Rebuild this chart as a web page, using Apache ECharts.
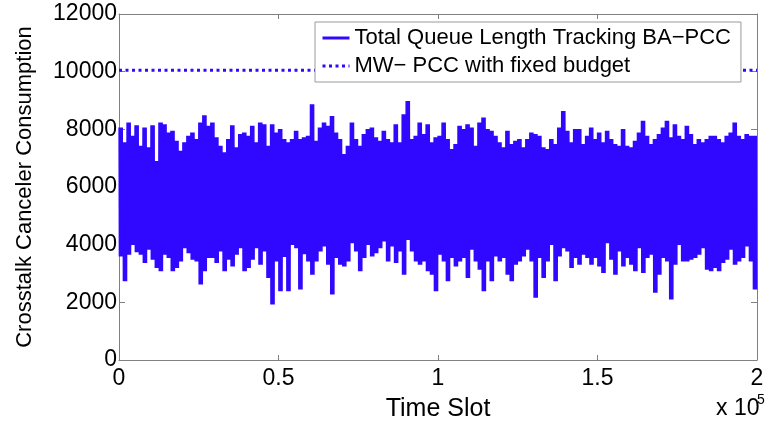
<!DOCTYPE html>
<html>
<head>
<meta charset="utf-8">
<script src="https://cdn.jsdelivr.net/npm/echarts@6/dist/echarts.min.js"></script>
<style>
  html, body { margin: 0; padding: 0; background: #fff; }
  #chart { width: 773px; height: 427px; }
</style>
</head>
<body>
<div id="chart"></div>
<script>
// values: per time cell (1250 slots each) the top and bottom of the trace
const slotsPerCell = 1250;
const upperEnv = [
  8066, 7550, 8238, 7777, 8145, 7433, 8066, 7378, 8145, 6900,
  8238, 8180, 7894, 7949, 7605, 7261, 7550, 7777, 7894, 7664,
  8238, 8489, 8121, 8238, 7722, 7433, 7206, 7664, 8145, 7378,
  7836, 7894, 7777, 8121, 7550, 8238, 8180, 7433, 8180, 7894,
  8008, 7664, 7550, 7664, 7949, 7664, 7722, 7777, 8868, 7605,
  8066, 8238, 8121, 8466, 7894, 7664, 7147, 7433, 8238, 7664,
  7433, 7836, 8008, 8066, 7722, 7605, 7949, 7664, 7550, 8180,
  7550, 8524, 8981, 7664, 7777, 8238, 7836, 8180, 7550, 7722,
  7777, 8238, 7664, 7320, 7490, 8121, 8008, 8180, 8066, 7433,
  8238, 8410, 8008, 7949, 7777, 7550, 7378, 7949, 7490, 7605,
  7664, 7378, 7664, 7894, 7836, 7777, 7378, 7320, 7664, 7490,
  8066, 8640, 7949, 7550, 8008, 8008, 7490, 7777, 8066, 7664,
  7894, 7550, 7949, 7664, 7490, 7433, 8008, 7433, 7378, 7605,
  7894, 8295, 7777, 7490, 7664, 7836, 8066, 8295, 7722, 8180,
  7777, 7664, 8121, 7836, 7490, 7664, 7550, 7664, 7777, 7777,
  7664, 7550, 7777, 7894, 8238, 7777, 7664, 7836, 7777, 7777
];
const lowerEnv = [
  3590, 2732, 3648, 3992, 3740, 3648, 3360, 3820, 3477, 3190,
  3076, 3648, 3534, 3076, 3190, 3420, 3878, 3705, 3477, 3420,
  2615, 3076, 3534, 3534, 3360, 3765, 3076, 3477, 3245, 3648,
  3878, 3076, 3190, 3477, 3878, 3303, 3765, 2846, 1927, 3420,
  2388, 3570, 2388, 3992, 3878, 2445, 3670, 3420, 2959, 3420,
  3765, 3935, 3303, 2271, 3534, 3303, 3245, 3420, 4050, 3765,
  3076, 3534, 3992, 3590, 3705, 3878, 4110, 3420, 3935, 3360,
  3765, 2959, 4165, 3765, 3420, 3303, 3420, 3076, 2959, 2388,
  3648, 3420, 2732, 3534, 3245, 3420, 3534, 2846, 3820, 3420,
  3130, 2388, 3420, 2732, 3590, 3420, 3534, 2959, 2732, 3303,
  3420, 3590, 3820, 3420, 2158, 3534, 2846, 3420, 3992, 2732,
  3590, 3878, 3765, 3190, 3534, 3303, 3648, 3534, 3303, 3534,
  3245, 3020, 4050, 3477, 2959, 3765, 3245, 3534, 3303, 3076,
  3878, 3020, 3534, 3648, 2330, 2959, 3534, 3420, 2100, 3303,
  3992, 3420, 3420, 3477, 3534, 3648, 3878, 3130, 3076, 3190,
  3076, 3360, 3477, 3820, 3303, 3420, 3534, 3935, 3420, 2445
];
const fixedBudget = 10050;
const xTickLabels = ['0', '0.5', '1', '1.5', '2'];
const seriesNames = ['Total Queue Length Tracking BA\u2212PCC', 'MW\u2212 PCC with fixed budget'];

const blue = '#3008ff';
const axisGray = '#808080';
const font = '"Liberation Sans", Arial, Helvetica, sans-serif';

// each cell is drawn as a few up/down strokes so the trace looks solid like the dense original
const strokesPerCell = 6;
const queueLine = [];
upperEnv.forEach((hi, i) => {
  const lo = lowerEnv[i];
  const step = slotsPerCell / strokesPerCell;
  for (let s = 0; s < strokesPerCell; s++) {
    const t = i * slotsPerCell + s * step;
    queueLine.push([t, hi]);
    queueLine.push([t + step / 2, lo]);
  }
});
const budgetLine = [[0, fixedBudget], [200000, fixedBudget]];

const chart = echarts.init(document.getElementById('chart'));
chart.setOption({
  animation: false,
  backgroundColor: '#fff',
  textStyle: { fontFamily: font },
  grid: { left: 119, right: 16, top: 14, bottom: 65 },
  legend: {
    orient: 'vertical',
    left: 315,
    top: 22,
    padding: [4, 10, 4, 6],
    itemGap: 4,
    itemWidth: 27,
    itemHeight: 14,
    backgroundColor: '#fff',
    borderColor: '#9a9a9a',
    borderWidth: 1,
    borderRadius: 0,
    textStyle: { fontFamily: font, fontSize: 22, color: '#000', lineHeight: 24 },
    itemStyle: { opacity: 0 },
    lineStyle: { width: 3 },
    data: seriesNames
  },
  xAxis: [
    {
      type: 'value', min: 0, max: 200000, interval: 50000,
      name: 'Time Slot', nameLocation: 'middle', nameGap: 37,
      nameTextStyle: { fontFamily: font, fontSize: 25, color: '#000' },
      axisLine: { onZero: false, lineStyle: { color: axisGray, width: 1 } },
      axisTick: { inside: true, length: 5, lineStyle: { color: axisGray } },
      axisLabel: {
        margin: 7, fontSize: 23, color: '#000', fontFamily: font,
        formatter: v => xTickLabels[Math.round(v / 50000)]
      },
      splitLine: { show: false }
    },
    {
      type: 'value', min: 0, max: 200000, interval: 50000, position: 'top',
      axisLine: { onZero: false, lineStyle: { color: axisGray, width: 1 } },
      axisTick: { inside: true, length: 5, lineStyle: { color: axisGray } },
      axisLabel: { show: false },
      splitLine: { show: false }
    }
  ],
  yAxis: [
    {
      type: 'value', min: 0, max: 12000, interval: 2000,
      name: 'Crosstalk Canceler Consumption', nameLocation: 'middle', nameGap: 83,
      nameTextStyle: { fontFamily: font, fontSize: 22, color: '#000' },
      axisLine: { show: true, onZero: false, lineStyle: { color: axisGray, width: 1 } },
      axisTick: { show: true, inside: true, length: 6, lineStyle: { color: axisGray } },
      axisLabel: { margin: 2, fontSize: 23, color: '#000', fontFamily: font, formatter: v => String(v) },
      splitLine: { show: false }
    },
    {
      type: 'value', min: 0, max: 12000, interval: 2000, position: 'right',
      axisLine: { show: true, onZero: false, lineStyle: { color: axisGray, width: 1 } },
      axisTick: { show: true, inside: true, length: 6, lineStyle: { color: axisGray } },
      axisLabel: { show: false },
      splitLine: { show: false }
    }
  ],
  series: [
    {
      name: seriesNames[0],
      type: 'line',
      data: queueLine,
      symbol: 'none',
      sampling: null,
      lineStyle: { color: blue, width: 1.3 },
      itemStyle: { color: blue }
    },
    {
      name: seriesNames[1],
      type: 'line',
      data: budgetLine,
      symbol: 'none',
      lineStyle: { color: blue, width: 3, type: [3, 3.5], cap: 'butt' },
      itemStyle: { color: blue }
    }
  ],
  graphic: [
    { type: 'text', left: 716, top: 397, style: { text: 'x 10', font: '23px ' + font, fill: '#000' } },
    { type: 'text', left: 757, top: 393, style: { text: '5', font: '14px ' + font, fill: '#000' } }
  ]
});
</script>
</body>
</html>
